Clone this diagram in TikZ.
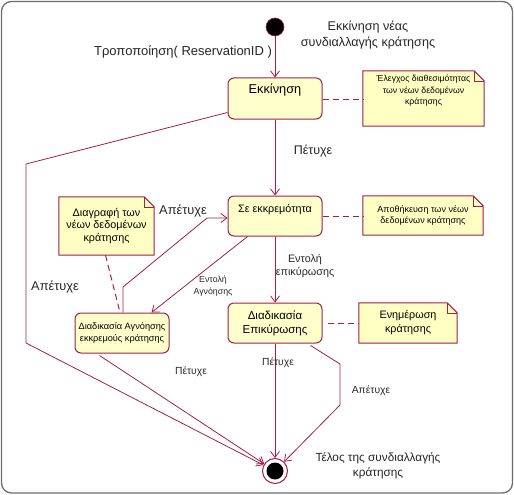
\documentclass[tikz,border=0pt]{standalone}
\usepackage{fontspec}
\setmainfont{Liberation Sans}
\usetikzlibrary{arrows.meta,backgrounds,calc}
\definecolor{crim}{RGB}{165,30,75}
\definecolor{boxfill}{RGB}{255,255,204}
\definecolor{notefill}{RGB}{255,255,196}
\definecolor{frame}{RGB}{110,110,110}
\tikzset{
  x=1pt,y=-1pt,
  state/.style={draw=crim,fill=boxfill,rounded corners=6pt,line width=1pt,minimum width=94pt,align=center,inner sep=1pt},
  notetext/.style={align=center,inner sep=1pt},
  notedraw/.style={draw=crim,fill=notefill,line width=1pt},
  trans/.style={draw=crim,line width=0.8pt,-{Straight Barb[length=6pt,width=9pt]}},
  anchorline/.style={draw=crim,line width=1pt,dash pattern=on 6pt off 4pt},
  lbl/.style={inner sep=0pt,align=center,text=black!85},
}
\newcommand\mynote[6]{%
  \node[notetext,minimum width=#3,minimum height=#4,font=#5] (#1) at #2 {#6};
  \begin{scope}[on background layer]
  \draw[notedraw] (#1.north west) -- ([xshift=-10pt]#1.north east) -- ([yshift=-10pt]#1.north east) -- (#1.south east) -- (#1.south west) -- cycle;
  \draw[crim,line width=0.5pt] ([xshift=-10pt]#1.north east) -- ([xshift=-10pt,yshift=-10pt]#1.north east) -- ([yshift=-10pt]#1.north east);
  \end{scope}}
\begin{document}
\begin{tikzpicture}
\useasboundingbox (0,0) rectangle (514,495);
\draw[frame,line width=1.3pt,rounded corners=10pt] (1.5,1.5) rectangle (512.5,493);
% initial
\node[circle,fill=black,draw=crim,line width=0.6pt,minimum size=18pt,inner sep=0pt] (init) at (275,27) {};
\node[lbl,font=\fontsize{12.6}{16}\selectfont] (startlbl) at (368,35) {Εκκίνηση νέας\\συνδιαλλαγής κράτησης};
\node[lbl,font=\fontsize{13}{14}\selectfont] (modlbl) at (183,52) {Τροποποίηση( ReservationID )};
% states
\node[state,minimum height=41pt,label={[anchor=north,yshift=-3pt,font=\fontsize{12.8}{14}\selectfont]north:Εκκίνηση}] (ekk) at (275,98.5) {};
\node[state,minimum height=40pt,font=\fontsize{10.8}{12}\selectfont] (pend) at (275,216) {Σε εκκρεμότητα\\[3pt]};
\node[state,minimum height=40pt,font=\fontsize{9.2}{11.5}\selectfont] (agn) at (122,333) {Διαδικασία Αγνόησης\\εκκρεμούς κράτησης};
\node[state,minimum height=40pt,font=\fontsize{11.5}{14}\selectfont] (epik) at (275,323) {Διαδικασία\\Επικύρωσης};
% final
\node[circle,draw=crim,fill=white,line width=1pt,minimum size=25pt,inner sep=0pt] (endst) at (275,471) {};
\node[circle,fill=black,minimum size=17pt,inner sep=0pt] (endin) at (endst.center) {};
\node[lbl,font=\fontsize{11.8}{15}\selectfont] (endlbl) at (378,465.5) {Τέλος της συνδιαλλαγής\\κράτησης};
% notes
\mynote{n1}{(423.5,98.5)}{121pt}{55pt}{\fontsize{8.7}{11.5}\selectfont}{Έλεγχος διαθεσιμότητας\\των νέων δεδομένων\\κράτησης\\[6pt]}
\mynote{n2}{(423,215.5)}{120pt}{39pt}{\fontsize{9}{11.5}\selectfont}{Αποθήκευση των νέων\\δεδομένων κράτησης}
\mynote{n3}{(106.5,226)}{95pt}{58pt}{\fontsize{10.8}{12.5}\selectfont}{Διαγραφή των\\νέων δεδομένων\\κράτησης}
\mynote{n4}{(408,323)}{98pt}{40pt}{\fontsize{10.8}{14}\selectfont}{Ενημέρωση\\κράτησης}
% anchors
\draw[anchorline] (ekk.east |- 0,99) -- (n1.west |- 0,99);
\draw[anchorline] (pend.east) -- (n2.west |- pend.east);
\draw[anchorline] ([xshift=-1pt]n3.south) -- ([xshift=-2pt]agn.north);
\draw[anchorline] ([xshift=5pt]epik.east) -- (n4.west |- epik.east);
% coordinates
\coordinate (f1) at (26,164);
\coordinate (f2) at (26,343);
\coordinate (a1) at (123,287);
\coordinate (a2) at (207,218);
\coordinate (e1) at (340,364);
\coordinate (e2) at (340,405);
% transitions
\draw[trans] (init) -- (ekk);
\draw[trans] (ekk) -- (pend);
\node[lbl,font=\fontsize{12.5}{13}\selectfont] (sl1) at (313,151) {Πέτυχε};
\draw[trans] ([yshift=7pt]ekk.south west) -- (f1) -- (f2) -- (endst);
\node[lbl,font=\fontsize{12.8}{14}\selectfont] (fl1) at (55,287) {Απέτυχε};
\draw[trans] (pend) -- (epik);
\node[lbl,font=\fontsize{10.8}{13}\selectfont] (el) at (305,266) {Εντολή\\επικύρωσης};
\draw[trans] ([xshift=20pt]pend.south west) -- ([xshift=77pt]agn.north west);
\node[lbl,font=\fontsize{8.8}{12}\selectfont] (al) at (213,286) {Εντολή\\Αγνόησης};
\draw[trans] ([xshift=1pt]agn.north) -- (a1) -- (a2) -- (a2 -| pend.west);
\node[lbl,font=\fontsize{12.8}{14}\selectfont] (fl2) at (183,211) {Απέτυχε};
\draw[trans] ([xshift=25pt,yshift=-2pt]agn.south west) -- (endst);
\node[lbl,font=\fontsize{10.3}{11}\selectfont] (sl2) at (191,372) {Πέτυχε};
\draw[trans] (epik) -- (endst);
\node[lbl,font=\fontsize{10.3}{11}\selectfont] (sl3) at (278,363) {Πέτυχε};
\draw[trans] ([xshift=-12pt,yshift=-2pt]epik.south east) -- (e1) -- (e2) -- (endst);
\node[lbl,font=\fontsize{10.3}{11}\selectfont] (fl3) at (371,391) {Απέτυχε};
\end{tikzpicture}
\end{document}
